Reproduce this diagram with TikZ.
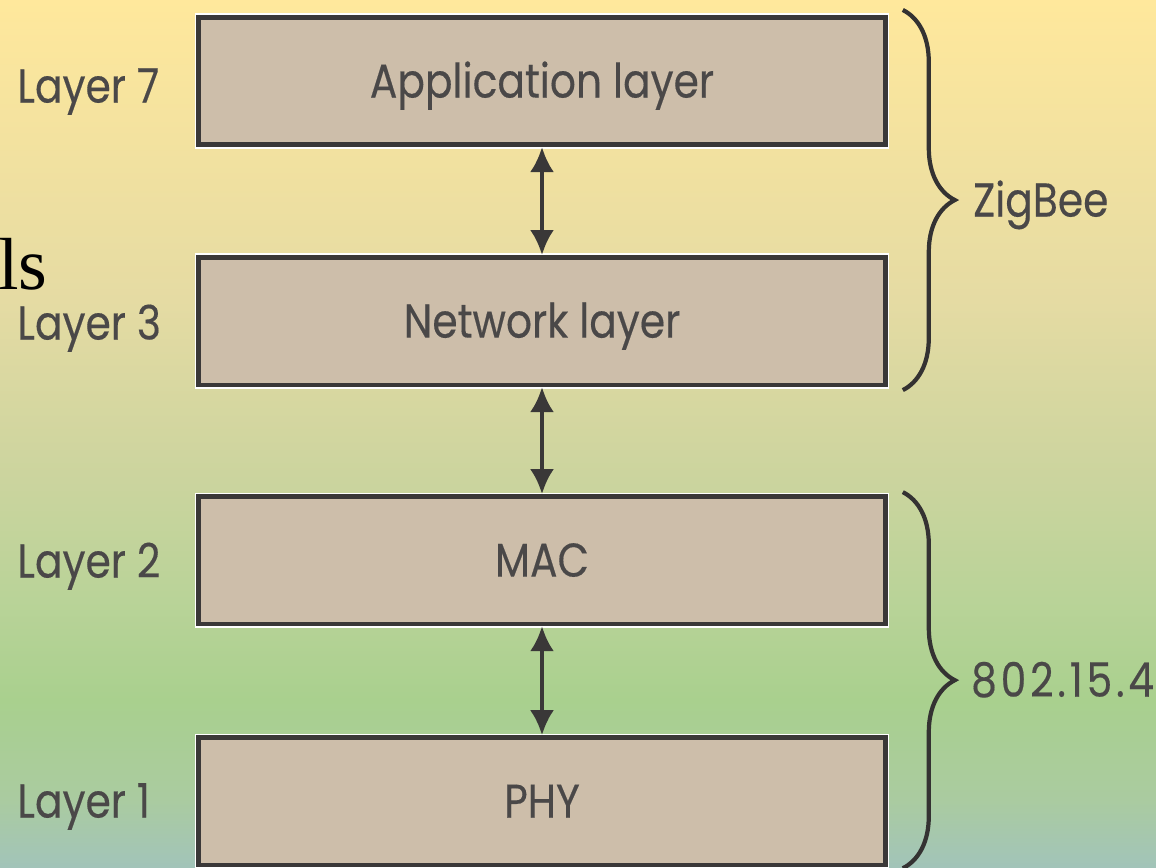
\documentclass[tikz,border=0pt]{standalone}
\usepackage{fontspec}
\setmainfont{Poppins}[FakeStretch=0.86, FakeBold=0.3]
\newfontfamily\cutfont{Liberation Serif}
\usetikzlibrary{arrows.meta, positioning, calc, decorations.pathreplacing}

\definecolor{boxfill}{HTML}{CDBEAA}
\definecolor{boxline}{HTML}{3A3838}
\definecolor{textgray}{HTML}{4A4848}
\definecolor{bgtop}{HTML}{FFE89C}
\definecolor{bgsand}{HTML}{E5DBA3}
\definecolor{bgmid}{HTML}{CBD49E}
\definecolor{bgleaf}{HTML}{B9D398}
\definecolor{bggreen}{HTML}{A9D08E}
\definecolor{bgteal}{HTML}{AACBA0}
\definecolor{bgbot}{HTML}{A2C4B9}

\pgfdeclareverticalshading{stackbg}{100bp}{color(0bp)=(bgbot); color(25bp)=(bgbot);
  color(28.9bp)=(bgteal); color(34.6bp)=(bggreen); color(40.4bp)=(bgleaf);
  color(47.3bp)=(bgmid); color(57.7bp)=(bgsand); color(75bp)=(bgtop); color(100bp)=(bgtop)}

\begin{document}
\begin{tikzpicture}[
    x=0.2mm, y=-0.2mm,
    node distance=2.16cm,
    % Styles
    layerbox/.style={
        draw=boxline, line width=2.6pt, fill=boxfill,
        preaction={draw=white, line width=4.4pt},
        minimum width=13.74cm, minimum height=2.55cm,
        font=\fontsize{27}{30}\selectfont, text=textgray,
        text height=18.8pt, text depth=0pt
    },
    layertag/.style={anchor=west, font=\fontsize{27}{30}\selectfont, text=textgray,
        inner sep=0pt, text height=18.8pt, text depth=0pt},
    stdtag/.style={layertag},
    link/.style={Latex-Latex, line width=2.3pt, color=boxline,
        arrows={[length=0.5cm, width=0.48cm]}},
    stdbrace/.style={decorate, decoration={brace, amplitude=1.04cm},
        line width=2.4pt, color=boxline!90!black}
]

    % --- Background ---
    \shade[shading=stackbg] (0,0) rectangle (1156,867);
    \useasboundingbox (0,0) rectangle (1156,867);

    % --- Protocol stack ---
    \node[layerbox] (app) at (542,81) {Application layer};
    \node[layerbox, below=2.16cm of app] (net) {Network layer};
    \node[layerbox, below=2.14cm of net] (mac) {MAC};
    \node[layerbox, below=2.18cm of mac] (phy) {PHY};

    % --- Layer numbers ---
    \node[layertag] (l7) at (17,86) {Layer 7};
    \node[layertag] (l3) at (17,323) {Layer 3};
    \node[layertag] (l2) at (17,561) {Layer 2};
    \node[layertag] (l1) at (17,801) {Layer 1};

    % cut-off text from the slide
    \node[anchor=base west, inner sep=0pt, font=\cutfont\fontsize{42}{44}\selectfont] (cut) at (-2,289) {ls};

    % --- Connections ---
    \draw[link] (app) -- (net);
    \draw[link] (net) -- (mac);
    \draw[link] (mac) -- (phy);

    % --- Standards ---
    \coordinate (zbtop) at ($(app.north east)+(15,-5)$);
    \coordinate (zbbot) at ($(net.south east)+(15,3)$);
    \coordinate (ieeetop) at ($(mac.north east)+(15,-2)$);
    \coordinate (ieeebot) at ($(phy.south east)+(15,1)$);
    \draw[stdbrace] (zbtop) -- (zbbot);
    \draw[stdbrace] (ieeetop) -- (ieeebot);

    \node[stdtag] (zigbee) at ($(zbtop)!0.5!(zbbot)+(70,0)$) {ZigBee};
    \node[stdtag] (ieee) at ($(ieeetop)!0.5!(ieeebot)+(68,0)$) {\addfontfeature{LetterSpace=8}802.15.4};

\end{tikzpicture}
\end{document}
